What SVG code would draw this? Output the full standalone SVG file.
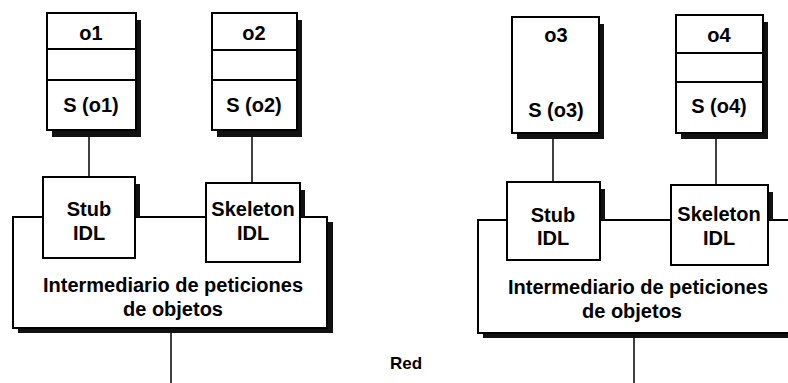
<svg xmlns="http://www.w3.org/2000/svg" width="788" height="383" viewBox="0 0 788 383">
<style>
.box{fill:#fff;stroke:#000;stroke-width:2}
.div{stroke:#000;stroke-width:2}
.sh{fill:#111}
.con{stroke:#000;stroke-width:1.5;fill:none}
text{font-family:"Liberation Sans",Arial,sans-serif;font-weight:bold;fill:#000;text-anchor:middle}
.t{font-size:20px}
.r{font-size:17px}
</style>
<rect width="788" height="383" fill="#fff"/>
<g id="connectors">
<line class="con" x1="89" y1="137" x2="89" y2="177"/>
<line class="con" x1="252" y1="137" x2="252" y2="183"/>
<line class="con" x1="553" y1="139" x2="553" y2="182"/>
<line class="con" x1="716" y1="139" x2="716" y2="185"/>
<line class="con" x1="171" y1="332" x2="171" y2="383"/>
<line class="con" x1="634" y1="337" x2="634" y2="383"/>
</g>
<g id="broker-left">
<rect class="sh" x="327" y="222" width="6" height="111"/>
<rect class="sh" x="18" y="328" width="315" height="5"/>
<rect class="box" x="13" y="217" width="314" height="111"/>
<text class="t" x="173" y="292">Intermediario de peticiones</text>
<text class="t" x="173" y="316">de objetos</text>
</g>
<g id="broker-right">
<rect class="sh" x="483" y="333" width="305" height="5"/>
<path class="box" d="M790 220 H478 V333 H790"/>
<text class="t" x="638" y="294">Intermediario de peticiones</text>
<text class="t" x="632" y="318">de objetos</text>
</g>
<g id="stub-left">
<rect class="sh" x="135" y="184" width="5" height="33"/>
<rect class="box" x="43" y="177" width="92" height="81"/>
<text class="t" x="89" y="216">Stub</text>
<text class="t" x="89" y="240">IDL</text>
</g>
<g id="skeleton-left">
<rect class="sh" x="300" y="190" width="5" height="27"/>
<rect class="box" x="206" y="183" width="94" height="79"/>
<text class="t" x="253" y="216">Skeleton</text>
<text class="t" x="253" y="240">IDL</text>
</g>
<g id="stub-right">
<rect class="sh" x="600" y="189" width="5" height="31"/>
<rect class="box" x="507" y="182" width="93" height="78"/>
<text class="t" x="553" y="222">Stub</text>
<text class="t" x="553" y="245">IDL</text>
</g>
<g id="skeleton-right">
<rect class="sh" x="768" y="192" width="5" height="28"/>
<rect class="box" x="671" y="185" width="97" height="80"/>
<text class="t" x="719" y="221">Skeleton</text>
<text class="t" x="719" y="245">IDL</text>
</g>
<g id="o1">
<rect class="sh" x="136" y="20" width="5" height="117"/>
<rect class="sh" x="52" y="130" width="89" height="7"/>
<rect class="box" x="47" y="13" width="89" height="117"/>
<line class="div" x1="47" y1="49" x2="136" y2="49"/>
<line class="div" x1="47" y1="80" x2="136" y2="80"/>
<text class="t" x="91" y="40">o1</text>
<text class="t" x="91" y="112">S (o1)</text>
</g>
<g id="o2">
<rect class="sh" x="297" y="20" width="5" height="117"/>
<rect class="sh" x="217" y="130" width="85" height="7"/>
<rect class="box" x="212" y="13" width="85" height="117"/>
<line class="div" x1="212" y1="50" x2="297" y2="50"/>
<line class="div" x1="212" y1="80" x2="297" y2="80"/>
<text class="t" x="254" y="40">o2</text>
<text class="t" x="254" y="112">S (o2)</text>
</g>
<g id="o3">
<rect class="sh" x="599" y="24" width="5" height="115"/>
<rect class="sh" x="517" y="133" width="87" height="6"/>
<rect class="box" x="512" y="17" width="87" height="116"/>
<text class="t" x="556" y="42">o3</text>
<text class="t" x="556" y="117">S (o3)</text>
</g>
<g id="o4">
<rect class="sh" x="763" y="22" width="5" height="117"/>
<rect class="sh" x="681" y="133" width="87" height="6"/>
<rect class="box" x="676" y="15" width="87" height="118"/>
<line class="div" x1="676" y1="53" x2="763" y2="53"/>
<line class="div" x1="676" y1="82" x2="763" y2="82"/>
<text class="t" x="719" y="42">o4</text>
<text class="t" x="719" y="113">S (o4)</text>
</g>
<g id="red">
<text class="r" x="406" y="369">Red</text>
</g>
</svg>
